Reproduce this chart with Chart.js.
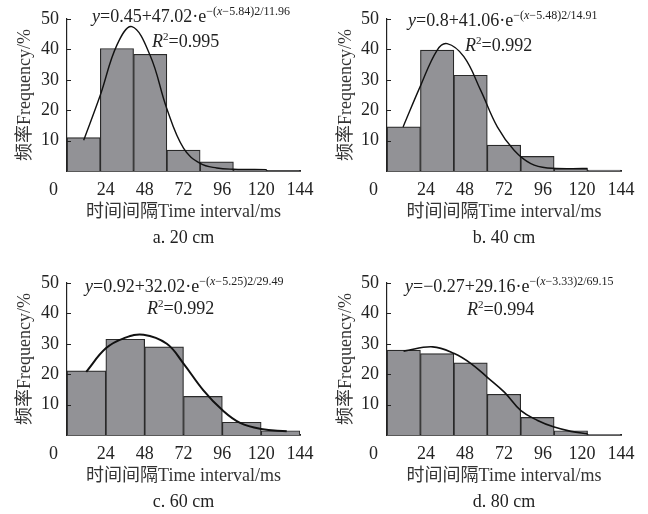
<!DOCTYPE html>
<html>
<head>
<meta charset="utf-8">
<script src="https://cdn.jsdelivr.net/npm/chart.js@4"></script>
<style>
  html, body { margin: 0; padding: 0; background: #fff; }
  #wrap { position: relative; width: 648px; height: 514px; overflow: hidden; }
  .panel { position: absolute; width: 324px; height: 250px; }
</style>
</head>
<body>
<div id="wrap">
  <div class="panel" style="left:0;top:0"><canvas id="c0" width="324" height="250"></canvas></div>
  <div class="panel" style="left:324px;top:0"><canvas id="c1" width="324" height="250"></canvas></div>
  <div class="panel" style="left:0;top:264px"><canvas id="c2" width="324" height="250"></canvas></div>
  <div class="panel" style="left:324px;top:264px"><canvas id="c3" width="324" height="250"></canvas></div>
</div>
<script>
(function () {
  // axis ticks
  const xTicks = [0, 24, 48, 72, 96, 120, 144];
  const yTicks = [10, 20, 30, 40, 50];

  const captions = ["a. 20 cm", "b. 40 cm", "c. 60 cm", "d. 80 cm"];
  const xTitle = "时间间隔Time interval/ms";
  const yTitle = "频率Frequency/%";

  // bin centres (ms)
  const bins7 = [10.29, 30.86, 51.43, 72, 92.57, 113.14, 133.71];
  const bins6 = [12, 36, 60, 84, 108, 132];

  // frequencies (%)
  const freqA = [11.0, 40.3, 38.4, 6.9, 3.0, 0.4, 0.1];
  const freqB = [14.5, 39.8, 31.5, 8.5, 4.8, 0.8, 0.3];
  const freqC = [21.1, 31.5, 29.0, 12.7, 4.2, 1.4];
  const freqD = [27.9, 26.8, 23.7, 13.4, 5.8, 1.4, 0.2];

  // fitted curves
  const fitXA = [10.3, 20.6, 30.9, 40.1, 51.4, 61.7, 72, 82.3, 92.6, 102.9, 123.4];
  const fitYA = [10.1, 25.0, 41.5, 47.5, 38.0, 20.5, 7.5, 2.5, 1.0, 0.6, 0.45];
  const fitXB = [9.9, 20.6, 30.9, 37, 47.3, 57.6, 67.9, 78.2, 88.5, 98.7, 123.4];
  const fitYB = [14.5, 28.0, 39.8, 41.9, 37.6, 26.6, 14.5, 6.8, 2.4, 1.0, 0.8];
  const fitXC = [11.9, 24, 35, 47.3, 61.7, 72, 84.3, 96, 107, 120, 135.8];
  const fitYC = [20.8, 28.5, 31.8, 33.0, 30.0, 23.5, 14.7, 8.2, 4.0, 2.0, 1.2];
  const fitXD = [10.2, 28.1, 41.4, 51.7, 61.9, 72.2, 82.4, 92.7, 102.9, 113.2, 123.4];
  const fitYD = [27.6, 29.0, 26.8, 23.5, 18.9, 14.1, 8.0, 4.8, 2.6, 1.2, 0.4];

  // equation parts: y = a + b·e^-(x-c)2/d
  const eqA = ["0.45", "47.02", "5.84", "11.96"];
  const eqB = ["0.8", "41.06", "5.48", "14.91"];
  const eqC = ["0.92", "32.02", "5.25", "29.49"];
  const eqD = ["−0.27", "29.16", "3.33", "69.15"];
  const r2 = ["0.995", "0.992", "0.992", "0.994"];

  const SERIF = '"Liberation Serif", "Noto Sans CJK SC", serif';
  const INK = "#222";

  const panels = [
    { id: "c0", bins: bins7, freq: freqA, fx: fitXA, fy: fitYA, eq: eqA, left: 67, right: 300, titlePad: 14, lw: 1.4, eqX: 92, eqY: 17, rX: 152, rY: 42 },
    { id: "c1", bins: bins7, freq: freqB, fx: fitXB, fy: fitYB, eq: eqB, left: 63, right: 297, titlePad: 11, lw: 1.4, eqX: 84, eqY: 21, rX: 141, rY: 46 },
    { id: "c2", bins: bins6, freq: freqC, fx: fitXC, fy: fitYC, eq: eqC, left: 67, right: 300, titlePad: 14, lw: 2, eqX: 85, eqY: 23, rX: 147, rY: 45 },
    { id: "c3", bins: bins7, freq: freqD, fx: fitXD, fy: fitYD, eq: eqD, left: 63, right: 297, titlePad: 11, lw: 1.6, eqX: 81, eqY: 23, rX: 143, rY: 46 },
  ];

  function drawRuns(ctx, x, y, runs) {
    runs.forEach((r) => {
      const size = r.size || 18;
      ctx.font = `${r.it ? "italic " : ""}${size}px ${SERIF}`;
      ctx.fillText(r.t, x, y + (r.dy || 0));
      x += ctx.measureText(r.t).width;
    });
  }

  function equationPlugin(p, idx) {
    return {
      id: "equation",
      afterDraw(chart) {
        const ctx = chart.ctx;
        ctx.save();
        ctx.fillStyle = INK;
        ctx.textBaseline = "middle";
        ctx.textAlign = "left";
        const [a, b, c, d] = p.eq;
        drawRuns(ctx, p.eqX, p.eqY, [
          { t: "y", it: true },
          { t: "=" + a + "+" + b + "·e" },
          { t: "−(", size: 12, dy: -5 },
          { t: "x", size: 12, dy: -5, it: true },
          { t: "−" + c + ")2/" + d, size: 12, dy: -5 },
        ]);
        drawRuns(ctx, p.rX, p.rY, [
          { t: "R", it: true },
          { t: "2", size: 11, dy: -5 },
          { t: "=" + r2[idx] },
        ]);
        // small inward ticks on the y axis
        const ys = chart.scales.y;
        ctx.strokeStyle = INK;
        ctx.lineWidth = 1;
        yTicks.forEach((v) => {
          const py = Math.round(ys.getPixelForValue(v)) + 0.5;
          ctx.beginPath();
          ctx.moveTo(ys.right, py);
          ctx.lineTo(ys.right + 4, py);
          ctx.stroke();
        });
        ctx.restore();
      },
    };
  }

  function buildChart(p, idx) {
    const ctx = document.getElementById(p.id);
    new Chart(ctx, {
      type: "bar",
      data: {
        datasets: [
          {
            type: "line",
            data: p.fx.map((x, i) => ({ x, y: p.fy[i] })),
            borderColor: "#111",
            borderWidth: p.lw,
            pointRadius: 0,
            tension: 0.4,
            fill: false,
            order: 0,
          },
          {
            type: "bar",
            data: p.bins.map((x, i) => ({ x, y: p.freq[i] })),
            backgroundColor: "#929296",
            borderColor: "#2a2a2a",
            borderWidth: 1.2,
            barPercentage: 1,
            categoryPercentage: 1,
            order: 1,
          },
        ],
      },
      options: {
        responsive: false,
        animation: false,
        layout: { padding: { top: 19, right: 324 - p.right, left: 0, bottom: 0 } },
        plugins: {
          legend: { display: false },
          tooltip: { enabled: false },
          title: {
            display: true,
            text: captions[idx],
            position: "bottom",
            fullSize: false,
            color: INK,
            font: { family: SERIF, size: 18, weight: "normal" },
            padding: { top: 0, bottom: 1 },
          },
        },
        scales: {
          x: {
            type: "linear",
            min: 0,
            max: 144,
            offset: false,
            afterBuildTicks: (s) => { s.ticks = xTicks.map((v) => ({ value: v })); },
            afterFit: (s) => { s.height = 56.4; },
            grid: { display: false, offset: false },
            border: { color: INK, width: 1.8 },
            ticks: {
              color: INK,
              maxRotation: 0,
              autoSkip: false,
              padding: 0,
              font: { family: SERIF, size: 18 },
              callback: (v) => (v === 0 ? "0      " : String(v)),
            },
            title: {
              display: true,
              text: xTitle,
              color: "#333",
              font: { family: SERIF, size: 18 },
              padding: { top: 0, bottom: 4 },
            },
          },
          y: {
            min: 0,
            max: 50,
            afterBuildTicks: (s) => { s.ticks = yTicks.map((v) => ({ value: v })); },
            afterFit: (s) => { s.width = p.left; },
            grid: { display: false },
            border: { color: INK, width: 1.2 },
            ticks: {
              color: INK,
              padding: 0,
              font: { family: SERIF, size: 18 },
            },
            title: {
              display: true,
              text: yTitle,
              color: "#333",
              font: { family: SERIF, size: 18 },
              padding: { top: p.titlePad, bottom: 0 },
            },
          },
        },
      },
      plugins: [equationPlugin(p, idx)],
    });
  }

  panels.forEach(buildChart);
})();
</script>
</body>
</html>
